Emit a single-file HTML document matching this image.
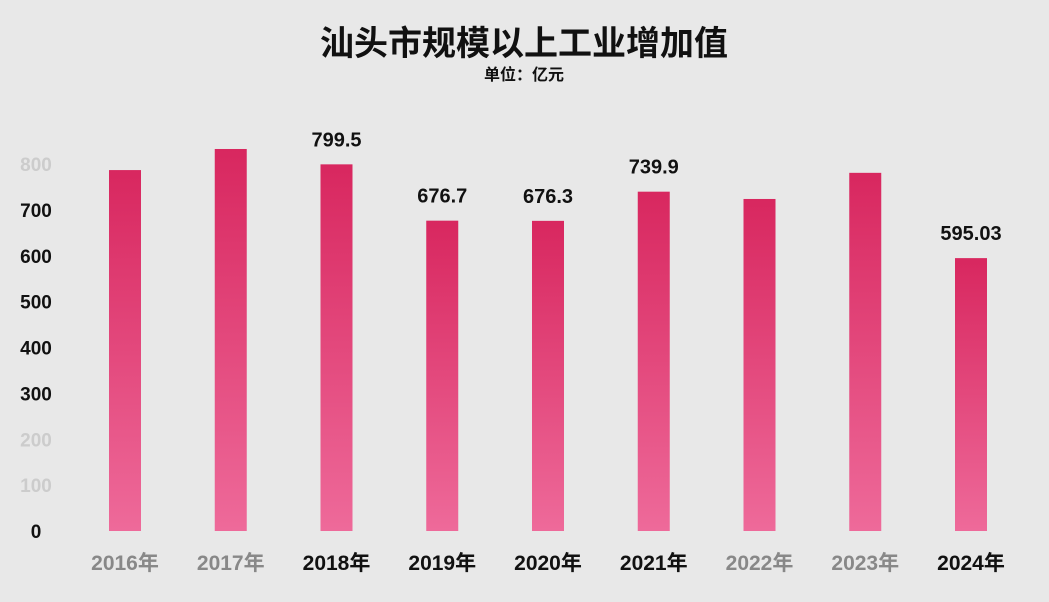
<!DOCTYPE html>
<html><head><meta charset="utf-8"><style>
html,body{margin:0;padding:0;background:#e8e8e8;}
body{width:1049px;height:597px;overflow:hidden;font-family:"Liberation Sans","Noto Sans CJK SC",sans-serif;}
</style></head><body>
<svg width="1049" height="597">
<defs><linearGradient id="g" x1="0" y1="0" x2="0" y2="1"><stop offset="0" stop-color="#d8275f"/><stop offset="1" stop-color="#ee6a9a"/></linearGradient></defs>
<rect x="0" y="0" width="1049" height="597" fill="#e8e8e8"/>
<text x="524" y="55" text-anchor="middle" font-size="34" font-weight="bold" fill="#111">汕头市规模以上工业增加值</text>
<text x="524" y="80" text-anchor="middle" font-size="16" font-weight="bold" fill="#111">单位：亿元</text>
<g id="axis"></g><g id="bars"></g>
</svg>
<script>
const categories=["2016年","2017年","2018年","2019年","2020年","2021年","2022年","2023年","2024年"];
const values=[787,833,799.5,676.7,676.3,739.9,724,781,595.03];
const labels=[null,null,"799.5","676.7","676.3","739.9",null,null,"595.03"];
const ticks=[0,100,200,300,400,500,600,700,800];
const ns="http://www.w3.org/2000/svg";
const y0=531,pxPer=45.86/100;
const y=v=>y0-v*pxPer;
const x=i=>125+i*105.75;
const ax=document.getElementById('axis'),bg=document.getElementById('bars');
ticks.forEach(t=>{const e=document.createElementNS(ns,'text');


e.setAttribute('x',36);e.setAttribute('y',y(t)+7);e.setAttribute('text-anchor','middle');
e.setAttribute('font-size','19');e.setAttribute('font-weight','bold');
e.setAttribute('fill',(t==100||t==200||t==800)?'#ccc':'#111');e.textContent=t;ax.appendChild(e);});
categories.forEach((c,i)=>{
const r=document.createElementNS(ns,'rect');


r.setAttribute('x',x(i)-16);r.setAttribute('y',y(values[i]));r.setAttribute('width',32);
r.setAttribute('height',y0-y(values[i]));r.setAttribute('fill','url(#g)');bg.appendChild(r);
const t=document.createElementNS(ns,'text');


t.setAttribute('x',x(i));t.setAttribute('y',570);t.setAttribute('text-anchor','middle');
t.setAttribute('font-size','21');t.setAttribute('font-weight','bold');
t.setAttribute('fill',labels[i]||i==2||i==3||i==4||i==5?'#111':'#888');t.textContent=c;bg.appendChild(t);
if(labels[i]){const l=document.createElementNS(ns,'text');


l.setAttribute('x',x(i));l.setAttribute('y',y(values[i])-18);l.setAttribute('text-anchor','middle');
l.setAttribute('font-size','20');l.setAttribute('font-weight','bold');l.setAttribute('fill','#111');
l.textContent=labels[i];bg.appendChild(l);}
});
</script>
</body></html>
